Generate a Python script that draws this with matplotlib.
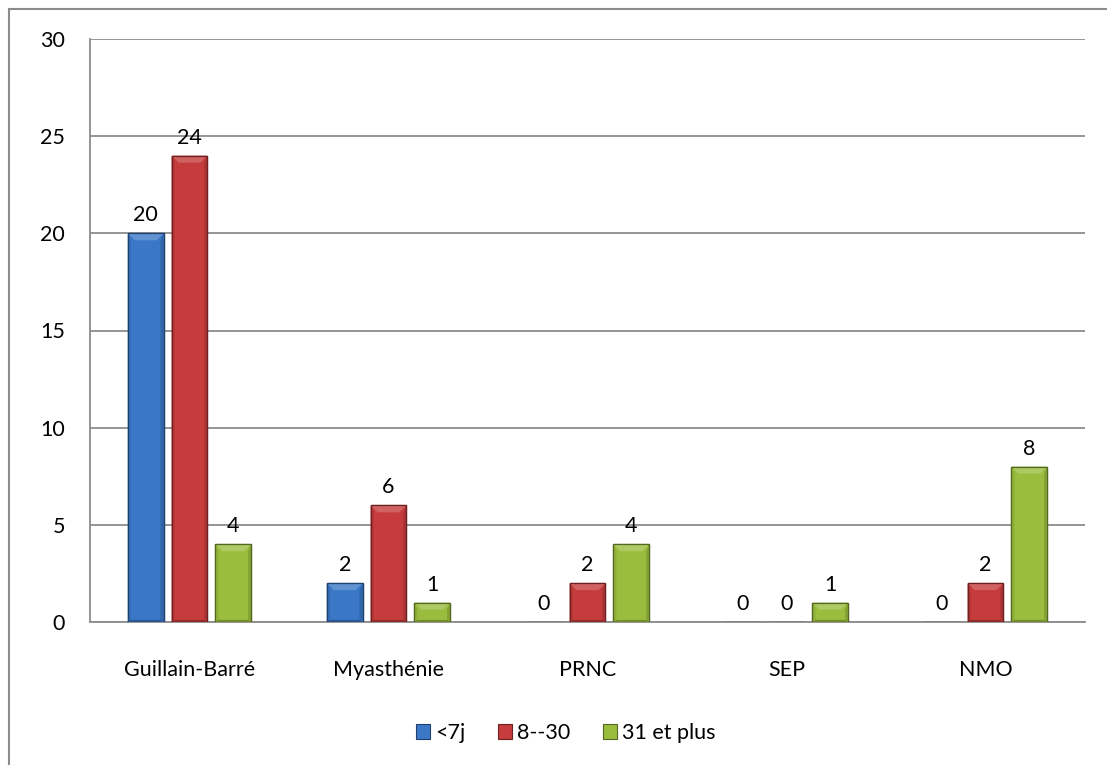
import matplotlib
matplotlib.use("Agg")
import matplotlib.pyplot as plt
from matplotlib.patches import Rectangle, Polygon
from matplotlib.lines import Line2D
import matplotlib.colors as mcolors
import numpy as np

categories = ["Guillain-Barré", "Myasthénie", "PRNC", "SEP", "NMO"]
series_names = ["<7j", "8--30", "31 et plus"]
vals_lt7 = [20, 2, 0, 0, 0]
vals_8_30 = [24, 6, 2, 0, 2]
vals_31plus = [4, 1, 4, 1, 8]
series_values = [vals_lt7, vals_8_30, vals_31plus]
colors = ["#3a77c6", "#c63b3b", "#9abd3d"]
y_ticks = [0, 5, 10, 15, 20, 25, 30]

plt.rcParams["font.family"] = ["Lato", "DejaVu Sans"]
FS = 15.5

W, H = 1107, 765
fig = plt.figure(figsize=(W / 100, H / 100), dpi=100)
ax = fig.add_axes([90 / W, (H - 622) / H, (1085 - 90) / W, (622 - 39) / H])

n_cat = len(categories)
ax.set_xlim(0, n_cat)
ax.set_ylim(0, 30)

bar_w = 0.18
step = 0.22
offsets = [-step, 0, step]

ax_w_px = (1085 - 90)
ax_h_px = (622 - 39)
bev_px = 7
dx = bev_px * n_cat / ax_w_px
dy = bev_px * 30 / ax_h_px


def shade(c, f):
    r, g, b = mcolors.to_rgb(c)
    if f >= 0:
        return (r + (1 - r) * f, g + (1 - g) * f, b + (1 - b) * f)
    f = -f
    return (r * (1 - f), g * (1 - f), b * (1 - f))


def draw_bar(x0, x1, h, color):
    # main body
    ax.add_patch(Rectangle((x0, 0), x1 - x0, h, facecolor=color,
                           edgecolor=shade(color, -0.45), lw=0.9, zorder=3))
    if h <= 0:
        return
    bdy = min(dy, h / 2.5)
    bdx = min(dx, (x1 - x0) / 3)
    sdx = bdx * 0.45
    # side bevels
    ax.add_patch(Polygon([(x0, 0), (x0, h), (x0 + sdx, h - bdy), (x0 + sdx, bdy * 0.3)],
                         closed=True, facecolor=shade(color, -0.08), lw=0, zorder=3.5))
    ax.add_patch(Polygon([(x1, 0), (x1, h), (x1 - sdx, h - bdy), (x1 - sdx, bdy * 0.3)],
                         closed=True, facecolor=shade(color, -0.14), lw=0, zorder=3.5))
    # bottom bevel
    ax.add_patch(Polygon([(x0, 0), (x1, 0), (x1 - sdx, bdy * 0.3), (x0 + sdx, bdy * 0.3)],
                         closed=True, facecolor=shade(color, -0.25), lw=0, zorder=3.5))
    # top bevel
    ax.add_patch(Polygon([(x0, h), (x1, h), (x1 - bdx, h - bdy), (x0 + bdx, h - bdy)],
                         closed=True, facecolor=shade(color, 0.2), lw=0, zorder=3.6))
    ax.add_patch(Rectangle((x0, 0), x1 - x0, h, facecolor="none",
                           edgecolor=shade(color, -0.45), lw=0.9, zorder=3.8))


for s, (vals, col) in enumerate(zip(series_values, colors)):
    for i, v in enumerate(vals):
        xc = i + 0.5 + offsets[s]
        draw_bar(xc - bar_w / 2, xc + bar_w / 2, v, col)
        ax.annotate(str(v), (xc, v), xytext=(0, 8), textcoords="offset pixels",
                    ha="center", va="bottom", fontsize=FS, color="black", zorder=5)

# axes styling
ax.set_yticks(y_ticks)
ax.set_yticklabels([str(t) for t in y_ticks])
ax.set_xticks([i + 0.5 for i in range(n_cat)])
ax.set_xticklabels(categories)
ax.tick_params(axis="both", length=0, labelsize=FS, colors="black")
ax.tick_params(axis="y", pad=18)
ax.tick_params(axis="x", pad=27)
ax.grid(axis="y", color="#8c8c8c", lw=1.3, zorder=1)
ax.set_axisbelow(True)
for side in ["top", "right"]:
    ax.spines[side].set_visible(False)
ax.spines["left"].set_color("#8c8c8c")
ax.spines["bottom"].set_color("#8c8c8c")
ax.spines["left"].set_linewidth(1.3)
ax.spines["bottom"].set_linewidth(1.3)

# legend
handles = [Rectangle((0, 0), 1, 1, facecolor=c, edgecolor=shade(c, -0.45), lw=0.8)
           for c in colors]
fig.legend(handles, series_names, loc="center", bbox_to_anchor=(566 / W, 1 - 733 / H),
           ncol=3, frameon=False, fontsize=FS, handlelength=0.65, handleheight=0.65,
           handletextpad=0.25, columnspacing=1.5)

# outer chart frame
fig.add_artist(Line2D([8.5 / W, 8.5 / W], [0, 1 - 9 / H], color="#8c8c8c", lw=1.5,
                      transform=fig.transFigure))
fig.add_artist(Line2D([8.5 / W, 1], [1 - 9 / H, 1 - 9 / H], color="#8c8c8c", lw=1.5,
                      transform=fig.transFigure))

fig.savefig("out.png", dpi=100, facecolor="white")
